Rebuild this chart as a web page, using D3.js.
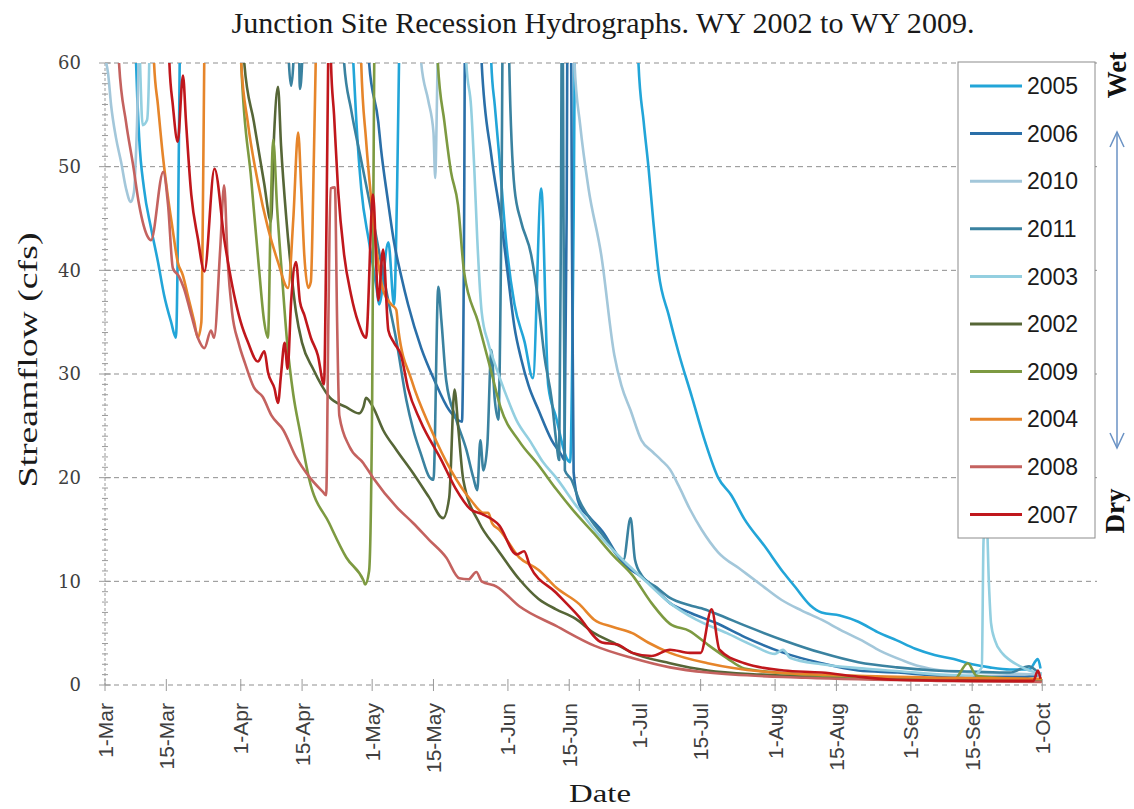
<!DOCTYPE html>
<html>
<head>
<meta charset="utf-8">
<script src="https://cdn.jsdelivr.net/npm/d3@7"></script>
<style>
  body { margin: 0; background: #fff; }
  svg { display: block; }
</style>
</head>
<body>
<svg id="chart" width="1134" height="809"></svg>
<script>
// legend order, wet to dry
const years = ["2005", "2006", "2010", "2011", "2003", "2002", "2009", "2004", "2008", "2007"]
const colors = ["#22a5d8", "#2a6fa8", "#a3c7da", "#3a82a0", "#93cfe0", "#566637", "#7d9a41", "#e6852a", "#c4625f", "#c0171c"]

// [days after 1-Mar, streamflow cfs]; values above 60 run off the top of the chart
const s2005 = [[0,75],[6.5,72],[7.1,60],[7.8,52.8],[8.9,47.9],[10.5,44.1],[12.1,40.8],[13.5,37.6],[15.1,35],[16.2,33.5],[16.7,45],[17.1,62],[17.5,72],
  [55.5,72],[56.7,60],[57.4,54.3],[58.5,47.9],[60.3,42.7],[62,38.3],[62.6,36.7],[64.7,42.7],[66,36.7],[66.7,48],[67.2,62],[67.6,72],
  [87.5,72],[88.2,60],[89,55.9],[90,51.1],[91.6,42.7],[93.5,36.7],[95.8,33.1],[97.7,29.6],[99.6,47.9],[101.2,28.9],[103,25.8],[105.5,21.8],[106.2,21.5],[107,45],[107.5,72],
  [121,72],[121.8,60],[123,54.3],[124.1,49.9],[125.2,44.7],[126.4,39.8],[128.7,35.7],[131,32],[134,27.8],[137,23.5],[140,20],[143,18.3],[146,16],[150.6,13.4],[155,10.8],[157.5,9.5],[161,7.7],[163.6,7],[167.8,6.7],[172,6.1],[176.4,5.1],[180.8,4.3],[185,3.5],[189.4,2.9],[193.8,2.5],[198,2],[202,1.7],[206.6,1.5],[211,1.5],[213,2.5],[213.6,1.6]]

const s2006 = [[0,75],[59.5,72],[60.3,60],[62.4,54.3],[63,51.8],[64.5,47],[66,42.7],[67.6,39.5],[69.2,36.7],[72.2,32.5],[75.2,29.4],[78.6,26.5],[81.5,25.4],[82,45],[82.3,72],
  [85.5,72],[86,60],[88.2,51.1],[90.5,44.7],[92,39.5],[93.5,34.5],[95,31.5],[96.7,28.9],[99,26.5],[102,23.6],[104.2,22.2],[104.9,21.7],[105.4,45],[105.7,72],[106.3,72],[106.6,45],
  [107,20.5],[108.3,17.4],[110.8,16.1],[113.6,14.8],[117,12.5],[118.6,11.6],[122,10.6],[124.8,9.6],[129,7.9],[134,6.9],[139.4,6],[146.2,4.6],[155,3.1],[163.6,2.1],[172,1.4],[181,1.2],[190,0.9],[200,0.8],[210,0.8],[213.5,1]]

const s2010 = [[0,60.5],[0.7,59],[1.4,55.9],[2.5,52.8],[3.7,50.4],[4.8,47.9],[5.9,46.6],[6.6,47.5],[7.3,54],[7.8,62],[8.2,72],
  [71.5,72],[72.2,60],[73.8,56.4],[75,53.3],[75.4,48.9],[75.7,54],[76,62],[76.4,72],
  [106.5,72],[107.2,60],[108.5,54],[110.4,47.9],[113.3,41.5],[116.3,31.8],[117.9,28.9],[120,26.5],[122.5,23.6],[125,22.5],[127,21.7],[129,20.8],[131,19.2],[133.5,17],[136.2,15],[140,12.8],[145.3,11.1],[150,9.6],[154.5,8.2],[159,7.2],[163.6,6.3],[168,5.3],[172.8,4.3],[177,3.3],[182,2.4],[186,1.8],[191,1.4],[198,1.2],[206,1.1],[213.9,1]]

const s2011 = [[0,75],[41.5,72],[42,60],[42.5,57.8],[43,60],[43.4,72],[44,72],[44.5,57.5],[45,60],[45.4,72],
  [54,72],[54.6,60],[56.2,55.5],[58.5,50.6],[61.2,44.9],[64.2,38.1],[66.5,33.3],[68.8,27.5],[70.4,24.6],[72.2,22.2],[74,20.1],[75,19.8],[76.1,38.4],[76.8,35.2],[77.9,29.4],[80.2,25.6],[82.5,22.7],[84.1,20],[85,18.8],[85.7,23.6],[86.4,20.7],[87.3,23.2],[88.2,32.3],[89,27.5],[89.8,25.6],[90.5,45],[91,72],
  [91.8,72],[92.3,60],[93.5,47.9],[95,44.7],[97.3,41.5],[99,36.7],[100.3,31.8],[102,27.5],[103,23.6],[103.7,21.7],[104.1,45],[104.4,72],[104.7,45],[105,20.7],[106.5,19.8],[108.3,17.8],[111,15.9],[114.5,14],[117,12.5],[118.4,12.1],[120,16.1],[121,12.1],[122.5,10.6],[126,9.4],[129,8.4],[133.5,7.7],[136.2,7.4],[139.4,6.9],[146.3,5.7],[155,4.3],[163.6,3.1],[172,2.2],[180.8,1.7],[189.4,1.4],[198,1.3],[206.6,1.2],[211,1.8],[213,1.2]]

const s2003 = [[0,75],[7.3,72],[8,60],[8.6,54],[9.6,54.5],[10.1,60],[10.5,72],
  [82,72],[82.5,60],[83.6,55.7],[84.3,50],[85,43],[86,36],[87.5,33],[89,31],[91.2,28.4],[94,25.5],[97.1,23.5],[100,21.5],[103,20],[107.4,17.4],[111.7,15],[117.9,12.2],[123,10.2],[129,7.9],[135,6.3],[142,5],[148,3.8],[153,3],[154.8,3.4],[156.5,2.6],[163.6,2],[172.8,1.6],[182,1.3],[191,1],[198,0.9],[200.2,1.7],[200.6,14],[201.3,16],[201.8,10],[202.3,6],[203.2,4.3],[205,3],[206.6,2.4],[209,1.8],[211,1.4],[213.9,1.1]]

const s2002 = [[0,75],[31,72],[31.8,60],[34,54.3],[36.3,48.5],[37.9,44.7],[38.6,53],[39.5,57.7],[40.2,52],[41.4,45],[42.5,40],[43.6,36],[45,33],[47.5,30.5],[51.2,27.8],[55.1,26.8],[58,26.2],[59,26.8],[59.6,27.7],[61.2,26.8],[63.5,24.6],[66.5,22.7],[70.4,20.4],[74,18.1],[77.2,16.1],[78.6,18.1],[79.8,28.5],[80.7,24.6],[81.8,19.8],[85.5,15.6],[89.4,13.2],[94.6,10.2],[99,8.3],[103,7.3],[107.4,6.4],[111.7,5],[116,4.1],[120.4,3.1],[129,2.1],[137.6,1.4],[150,1],[170,0.7],[190,0.5],[213.9,0.4]]

const s2009 = [[0,75],[30.5,72],[31.1,60],[33.4,48.7],[35.2,40],[36.3,35.2],[37.2,33.5],[37.9,46.8],[38.4,52.6],[39.3,46],[40.5,39],[41.6,33],[43,28],[44.5,24.5],[46.6,19.9],[51.2,15.6],[55.1,12.3],[59,10.1],[59.4,9.7],[60.3,11],[61,27.5],[61.5,62],[62,72],
  [75.5,72],[76,60],[77.5,54.3],[79,49.5],[80.6,46.3],[82,39.8],[85.2,35],[88.2,30.2],[90.3,26.8],[94.6,23.5],[99,21.2],[103,18.9],[107.4,16.6],[111.7,14.6],[116,12.5],[120.4,10.6],[124.8,7.9],[129,5.9],[133.5,5.2],[137.6,3.9],[142,2.6],[146,1.6],[160,1],[180,0.7],[194,0.6],[197,2.1],[199,0.9],[213.9,0.5]]

const s2004 = [[0,75],[10.5,72],[11.2,60],[12.1,55.9],[13.2,51.1],[14.3,47.3],[15.4,44.1],[16.6,40.8],[17.8,39.5],[18.9,37.6],[20.4,35],[21.2,33.5],[22,35],[22.4,48],[22.7,62],[23,72],
  [30.5,72],[31.1,60],[32.6,54.3],[34.9,48.5],[37.2,44.1],[39.5,40.8],[41.8,38.3],[43,45],[44.1,53.3],[44.8,47.9],[45.5,41.5],[46.4,38.3],[47,38.9],[47.7,51.1],[48.2,62],[48.6,72],
  [58,72],[58.5,60],[59.6,52.6],[60.8,46.8],[62,42],[63.5,38.1],[65.4,36.7],[66.5,36.2],[67,34.2],[70,29.4],[74.5,24.6],[79,20.7],[83.6,17.8],[86.5,16.6],[87.5,16.6],[88.4,15.6],[90,15],[94.6,12.3],[99,11.1],[103,9.4],[108.3,7.8],[111.7,6.3],[116,5.6],[120.4,5],[124,4.1],[129,3.1],[137.6,2.1],[150,1.3],[170,0.9],[190,0.7],[213.9,0.6]]

const s2008 = [[0,75],[2.8,72],[3.2,60],[4.8,54.3],[6.4,50.2],[7.8,46.3],[9.8,43.2],[10.5,42.9],[13.3,49.5],[14.4,46.3],[15.5,40.2],[16.9,39.4],[18,38.3],[19.7,35.7],[21.2,33.5],[22.7,32.5],[24.2,34.2],[24.9,33.5],[26.3,42],[27.2,48.2],[28,41],[29,36],[30.5,33],[32,31],[34,28.7],[36,27.8],[38,26],[40.7,24.6],[43.6,22],[46.6,20.1],[49.8,18.6],[50.5,18.3],[51,35],[51.5,47.9],[52.5,48],[53,35],[53.5,26],[55.8,23],[59,21.4],[61.2,20],[66.5,17.2],[70.4,15.6],[74,14],[77.9,12.3],[80.9,10.3],[83,10.2],[84.8,10.9],[86,10],[89.4,9.5],[94.6,7.6],[103,5.7],[111.7,3.8],[120.4,2.6],[129,1.7],[137.6,1.2],[160,0.7],[190,0.4],[213.9,0.3]]

const s2007 = [[0,75],[14.2,72],[14.7,60],[15.5,55.9],[16.6,52.4],[17.8,58.8],[18.5,54.3],[19.7,47.3],[21.2,43.1],[22.7,39.9],[25,49.8],[27.3,42.8],[29.5,37.6],[31,35],[32.6,33.1],[34.9,31.2],[36.4,32.2],[37.2,30.2],[38.7,28.6],[39.5,27.2],[40.2,30],[41,33],[41.7,30.5],[42.5,37],[43.6,40.8],[44.5,37],[45.5,35.7],[47,33.5],[48.6,31.8],[50,29],[50.5,42],[51,62],[51.3,72],[51.6,60],[52.3,55],[53.2,47.9],[54.6,41.5],[56.2,37.6],[57.8,35],[59.6,33.5],[61.2,47.3],[62.4,37.1],[63.5,42],[64.7,34.2],[66,33],[67.6,31.8],[69.2,28.6],[72,25.5],[76.8,21.7],[80,19],[83.6,16.9],[86,16.5],[90,15.4],[94,12.6],[95.7,12.9],[97,11.5],[103,8.9],[108,6.7],[113.5,4.1],[117,3.9],[120.4,3.1],[124.8,2.8],[129,3.4],[133.5,3.1],[136,3.1],[138.5,7.3],[140.3,3.4],[146,2.1],[155,1.4],[163.6,1.2],[172,0.8],[180.8,0.5],[198,0.4],[212,0.4],[213,1.4],[213.6,0.6]]

const seriesValues = [s2005, s2006, s2010, s2011, s2003, s2002, s2009, s2004, s2008, s2007]

const yTicks = [0, 10, 20, 30, 40, 50, 60]
const dateTicks = ["2001-03-01", "2001-03-15", "2001-04-01", "2001-04-15", "2001-05-01", "2001-05-15", "2001-06-01", "2001-06-15",
  "2001-07-01", "2001-07-15", "2001-08-01", "2001-08-15", "2001-09-01", "2001-09-15", "2001-10-01"]

const base = Date.UTC(2001, 2, 1)
const toDate = (d) => new Date(base + d * 864e5)

const svg = d3.select("#chart")
const plotLeft = 105, plotRight = 1097, plotTop = 63, plotBottom = 685

const x = d3.scaleUtc().domain([toDate(0), toDate(226.5)]).range([plotLeft, plotRight])
const y = d3.scaleLinear().domain([0, 60]).range([plotBottom, plotTop])

// gridlines
svg.append("g").selectAll("line").data(yTicks).enter().append("line")
  .attr("x1", plotLeft).attr("x2", plotRight)
  .attr("y1", (d) => y(d)).attr("y2", (d) => y(d))
  .attr("stroke", "#8f8f8f").attr("stroke-width", 1).attr("stroke-dasharray", "5,4")

// y axis line + ticks
svg.append("line").attr("x1", plotLeft).attr("x2", plotLeft).attr("y1", plotTop).attr("y2", plotBottom)
  .attr("stroke", "#9a9a9a").attr("stroke-dasharray", "3,2")
svg.append("g").selectAll("line").data(d3.range(0, 61, 1)).enter().append("line")
  .attr("x1", (d) => (d % 10 === 0 ? plotLeft - 6 : plotLeft - 3))
  .attr("x2", (d) => (d % 10 === 0 ? plotLeft + 6 : plotLeft + 3))
  .attr("y1", (d) => y(d)).attr("y2", (d) => y(d))
  .attr("stroke", "#9a9a9a")

svg.append("g").selectAll("text").data(yTicks).enter().append("text")
  .attr("x", 81).attr("y", (d) => y(d)).attr("dy", "0.36em")
  .attr("text-anchor", "end")
  .style("font-family", "'DejaVu Serif', serif").style("font-size", "18px").attr("fill", "#404040")
  .text((d) => d)

// x ticks
const parseDay = d3.utcParse("%Y-%m-%d")
const fmt = d3.utcFormat("%-d-%b")
const tickDates = dateTicks.map(parseDay)
svg.append("g").selectAll("line").data(tickDates).enter().append("line")
  .attr("x1", (d) => x(d)).attr("x2", (d) => x(d))
  .attr("y1", plotBottom - 6).attr("y2", plotBottom + 6)
  .attr("stroke", "#9a9a9a")
svg.append("g").selectAll("text").data(tickDates).enter().append("text")
  .attr("transform", (d) => `translate(${x(d)},${plotBottom + 18}) rotate(-90)`)
  .attr("dy", "0.36em").attr("text-anchor", "end")
  .style("font-family", "'Liberation Sans', Arial, sans-serif").style("font-size", "21px").attr("fill", "#404040")
  .text((d) => fmt(d))

// series
svg.append("clipPath").attr("id", "plotclip").append("rect")
  .attr("x", plotLeft).attr("y", plotTop).attr("width", plotRight - plotLeft).attr("height", plotBottom - plotTop + 4)

const line = d3.line()
  .x((d) => x(toDate(d[0])))
  .y((d) => y(d[1]))
  .curve(d3.curveMonotoneX)

svg.append("g").attr("clip-path", "url(#plotclip)")
  .selectAll("path").data(seriesValues).enter().append("path")
  .attr("d", (d) => line(d))
  .attr("fill", "none")
  .attr("stroke", (d, i) => colors[i])
  .attr("stroke-width", 2.6)
  .attr("stroke-linejoin", "round")

// titles
svg.append("text").attr("x", 603).attr("y", 33).attr("text-anchor", "middle")
  .attr("textLength", 743).attr("lengthAdjust", "spacingAndGlyphs")
  .style("font-family", "'Liberation Serif', serif").style("font-size", "30px").attr("fill", "#1a1a1a")
  .text("Junction Site Recession Hydrographs. WY 2002 to WY 2009.")

svg.append("text").attr("transform", "translate(37,360) rotate(-90)").attr("text-anchor", "middle")
  .attr("textLength", 255).attr("lengthAdjust", "spacingAndGlyphs")
  .style("font-family", "'Liberation Serif', serif").style("font-size", "28px").attr("fill", "#1a1a1a")
  .text("Streamflow (cfs)")

svg.append("text").attr("x", 600).attr("y", 802).attr("text-anchor", "middle")
  .attr("textLength", 62).attr("lengthAdjust", "spacingAndGlyphs")
  .style("font-family", "'Liberation Serif', serif").style("font-size", "26px").attr("fill", "#1a1a1a")
  .text("Date")

// legend
const lg = svg.append("g")
lg.append("rect").attr("x", 958).attr("y", 62).attr("width", 137).attr("height", 476)
  .attr("fill", "#fff").attr("stroke", "#8c8c8c").attr("stroke-width", 1)
const items = lg.selectAll("g.item").data(years).enter().append("g").attr("class", "item")
  .attr("transform", (d, i) => `translate(0,${86 + i * 47.6})`)
items.append("line").attr("x1", 970).attr("x2", 1022).attr("y1", 0).attr("y2", 0)
  .attr("stroke", (d, i) => colors[i]).attr("stroke-width", 3)
items.append("text").attr("x", 1027).attr("y", 0).attr("dy", "0.36em")
  .style("font-family", "'Liberation Sans', Arial, sans-serif").style("font-size", "23px").attr("fill", "#1a1a1a")
  .text((d) => d)

// wet / dry annotation
svg.append("text").attr("transform", "translate(1126,75) rotate(-90)").attr("text-anchor", "middle")
  .style("font-family", "'Liberation Serif', serif").style("font-size", "27px").style("font-weight", "bold")
  .attr("fill", "#111").text("Wet")
svg.append("text").attr("transform", "translate(1124,511) rotate(-90)").attr("text-anchor", "middle")
  .style("font-family", "'Liberation Serif', serif").style("font-size", "27px").style("font-weight", "bold")
  .attr("fill", "#111").text("Dry")

const ax = 1117, ay1 = 132, ay2 = 448
const arrowColor = "#6a92c4"
svg.append("line").attr("x1", ax).attr("x2", ax).attr("y1", ay1).attr("y2", ay2)
  .attr("stroke", arrowColor).attr("stroke-width", 1.5)
svg.append("path").attr("d", `M${ax - 7},${ay1 + 15} L${ax},${ay1} L${ax + 7},${ay1 + 15}`)
  .attr("fill", "none").attr("stroke", arrowColor).attr("stroke-width", 1.5)
svg.append("path").attr("d", `M${ax - 7},${ay2 - 15} L${ax},${ay2} L${ax + 7},${ay2 - 15}`)
  .attr("fill", "none").attr("stroke", arrowColor).attr("stroke-width", 1.5)
</script>
</body>
</html>
